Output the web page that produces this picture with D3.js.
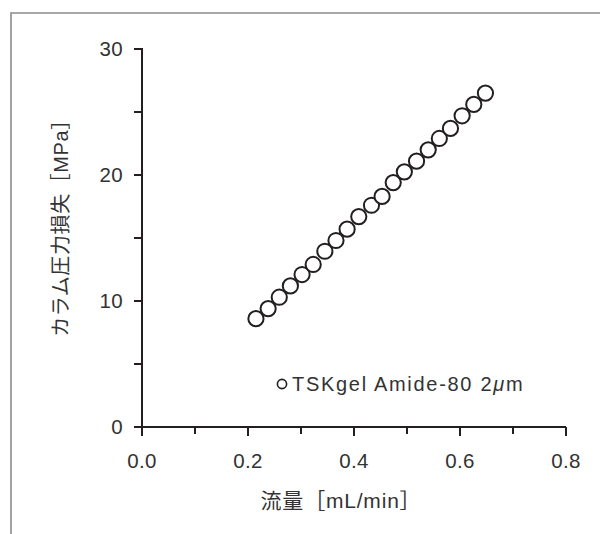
<!DOCTYPE html>
<html>
<head>
<meta charset="utf-8">
<script src="https://cdn.jsdelivr.net/npm/d3@7"></script>
<style>
  html, body { margin: 0; padding: 0; background: #fff; }
  svg { display: block; }
  .lat { font-family: "Liberation Sans", Arial, sans-serif; }
  .jp { font-family: "Liberation Sans", "Noto Sans CJK JP", sans-serif; }
</style>
</head>
<body>
<svg id="chart" width="600" height="534"></svg>
<script>
// Column back-pressure vs. flow rate
const flowRate = [0.215, 0.238, 0.259, 0.280, 0.302, 0.323, 0.345, 0.366, 0.387, 0.409,
                  0.433, 0.453, 0.474, 0.495, 0.518, 0.540, 0.561, 0.582, 0.604, 0.626, 0.648];
const pressure = [8.6, 9.4, 10.3, 11.2, 12.1, 12.9, 13.95, 14.8, 15.7, 16.7,
                  17.6, 18.3, 19.4, 20.25, 21.1, 22.0, 22.9, 23.7, 24.7, 25.6, 26.5];
const seriesName = "TSKgel Amide-80 2";
const xTicks = [0, 0.1, 0.2, 0.3, 0.4, 0.5, 0.6, 0.7, 0.8];
const xLabelTicks = [0, 0.2, 0.4, 0.6, 0.8];
const yTicks = [0, 5, 10, 15, 20, 25, 30];
const yLabelTicks = [0, 10, 20, 30];
const xTitle = "流量［mL/min］";
const yTitle = "カラム圧力損失［MPa］";

const svg = d3.select("#chart");
const ink = "#231f20";
const textInk = "#333";

// outer frame
svg.append("path")
  .attr("d", "M11,540 L11,13 L610,13")
  .attr("fill", "none")
  .attr("stroke", "#8c8c8c")
  .attr("stroke-width", 1.6);

const x = d3.scaleLinear().domain([0, 0.8]).range([142, 566]);
const y = d3.scaleLinear().domain([0, 30]).range([427, 49]);

// x axis
const gx = svg.append("g").attr("transform", `translate(0,${y(0)})`);
gx.append("line")
  .attr("x1", x(0)).attr("x2", x(0.8))
  .attr("stroke", ink).attr("stroke-width", 2);
gx.selectAll("line.tick").data(xTicks).join("line")
  .attr("class", "tick")
  .attr("x1", d => x(d)).attr("x2", d => x(d))
  .attr("y1", 0)
  .attr("y2", d => xLabelTicks.some(v => Math.abs(v - d) < 1e-9) ? 9 : 7)
  .attr("stroke", ink).attr("stroke-width", 2);
gx.selectAll("text").data(xLabelTicks).join("text")
  .attr("class", "lat")
  .attr("x", d => x(d)).attr("y", 41)
  .attr("text-anchor", "middle")
  .attr("font-size", 20.5)
  .attr("letter-spacing", 0.4)
  .attr("fill", textInk)
  .text(d => d3.format(".1f")(d));

// y axis
const gy = svg.append("g").attr("transform", `translate(${x(0)},0)`);
gy.append("line")
  .attr("y1", y(30) - 1).attr("y2", y(0) + 3)
  .attr("stroke", ink).attr("stroke-width", 2);
gy.selectAll("line.tick").data(yTicks).join("line")
  .attr("class", "tick")
  .attr("x1", 0).attr("x2", -8)
  .attr("y1", d => y(d)).attr("y2", d => y(d))
  .attr("stroke", ink).attr("stroke-width", 2);
gy.selectAll("text").data(yLabelTicks).join("text")
  .attr("class", "lat")
  .attr("x", -19).attr("y", d => y(d))
  .attr("dy", "0.36em")
  .attr("text-anchor", "end")
  .attr("font-size", 20.5)
  .attr("letter-spacing", 0.4)
  .attr("fill", textInk)
  .text(d => d);

// axis titles
svg.append("text")
  .attr("class", "jp")
  .attr("x", 341).attr("y", 508)
  .attr("text-anchor", "middle")
  .attr("font-size", 21)
  .attr("letter-spacing", 0.8)
  .attr("fill", textInk)
  .text(xTitle);

svg.append("text")
  .attr("class", "jp")
  .attr("transform", "translate(68,223) rotate(-90)")
  .attr("text-anchor", "middle")
  .attr("font-size", 20)
  .attr("letter-spacing", 0.6)
  .attr("fill", textInk)
  .text(yTitle);

// data markers
svg.append("g").selectAll("circle")
  .data(flowRate.map((f, i) => [f, pressure[i]]))
  .join("circle")
  .attr("cx", d => x(d[0]))
  .attr("cy", d => y(d[1]))
  .attr("r", 7.6)
  .attr("fill", "#fff")
  .attr("stroke", ink)
  .attr("stroke-width", 2);

// legend
const lg = svg.append("g");
lg.append("circle")
  .attr("cx", 282).attr("cy", 384).attr("r", 4.6)
  .attr("fill", "#fff").attr("stroke", ink).attr("stroke-width", 1.6);
const lt = lg.append("text")
  .attr("class", "lat")
  .attr("x", 292).attr("y", 391)
  .attr("font-size", 20)
  .attr("letter-spacing", 1.7)
  .attr("fill", textInk);
lt.append("tspan").text(seriesName);
lt.append("tspan").attr("font-style", "italic").text("μ");
lt.append("tspan").text("m");
</script>
</body>
</html>
